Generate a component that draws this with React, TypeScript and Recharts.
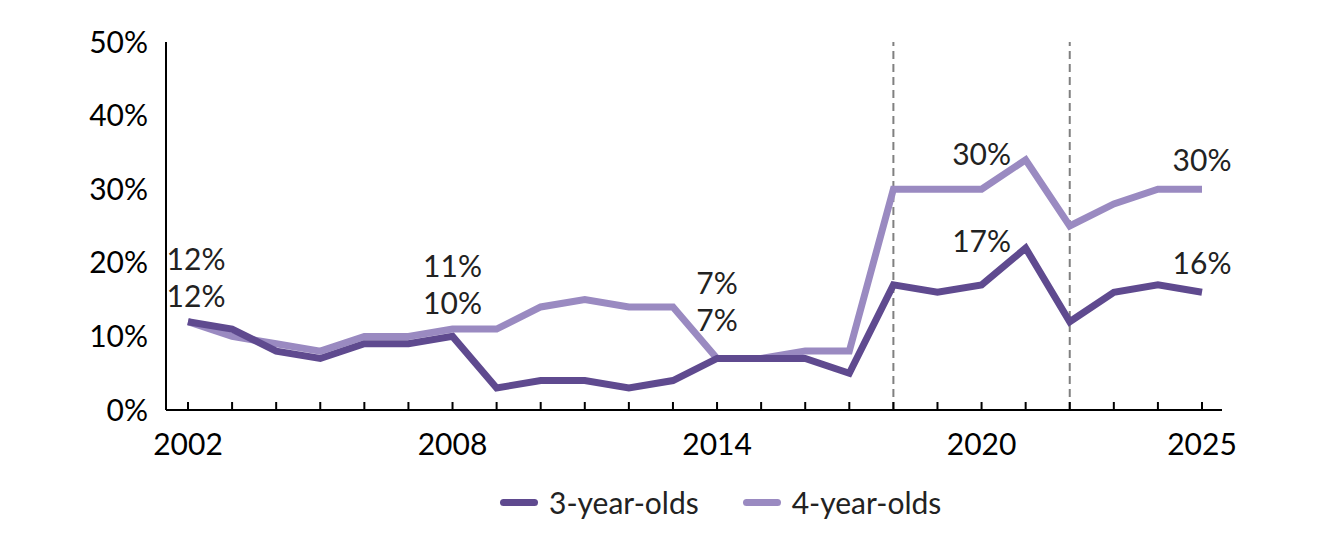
import {
  LineChart,
  Line,
  XAxis,
  YAxis,
  ReferenceLine,
  Legend,
  LabelList,
} from "recharts";

const years = [
  2002, 2003, 2004, 2005, 2006, 2007, 2008, 2009, 2010, 2011, 2012, 2013,
  2014, 2015, 2016, 2017, 2018, 2019, 2020, 2021, 2022, 2023, 2024, 2025,
];
const threeYearOlds = [
  12, 11, 8, 7, 9, 9, 10, 3, 4, 4, 3, 4, 7, 7, 7, 5, 17, 16, 17, 22, 12, 16,
  17, 16,
];
const fourYearOlds = [
  12, 10, 9, 8, 10, 10, 11, 11, 14, 15, 14, 14, 7, 7, 8, 8, 30, 30, 30, 34, 25,
  28, 30, 30,
];
const yTicks = [0, 10, 20, 30, 40, 50];
const labelledYears = [2002, 2008, 2014, 2020, 2025];
const dashedYears = [2018, 2022];

const data = years.map((year, i) => ({
  year,
  three: threeYearOlds[i],
  four: fourYearOlds[i],
}));

const DARK = "#5f4a8f";
const LIGHT = "#9a8ac1";
const FONT = "Lato, 'Noto Sans', sans-serif";
const FS = 30;

// vertical offset (px) of each value label above its point
const threeOffsets: Record<number, number> = {
  2002: -27,
  2008: -34,
  2014: -39,
  2020: -45,
  2025: -30,
};
const fourOffsets: Record<number, number> = {
  2002: -64,
  2008: -64,
  2014: -76,
  2020: -36,
  2025: -30,
};

const makeLabel = (offsets: Record<number, number>) => (props: any) => {
  const { x, y, value, index } = props;
  const year = years[index];
  if (!labelledYears.includes(year)) return null;
  return (
    <text
      x={x + (year === 2002 ? 8 : 0)}
      y={y + offsets[year]}
      textAnchor="middle"
      dominantBaseline="central"
      fontFamily={FONT}
      fontSize={FS}
      fill="#222"
    >
      {value}%
    </text>
  );
};

const XTick = (props: any) => {
  const { x, y, payload } = props;
  const show = labelledYears.includes(payload.value);
  return (
    <g>
      <line x1={x} x2={x} y1={y - 8} y2={y} stroke="#000" strokeWidth={2} />
      {show && (
        <text
          x={x}
          y={y + 33}
          textAnchor="middle"
          dominantBaseline="central"
          fontFamily={FONT}
          fontSize={FS}
          fill="#000"
        >
          {payload.value}
        </text>
      )}
    </g>
  );
};

const LegendContent = () => {
  const item = (color: string, label: string, gap: number) => (
    <div style={{ display: "flex", alignItems: "center", marginRight: gap }}>
      <div
        style={{
          width: 38,
          height: 7,
          borderRadius: 4,
          background: color,
          marginRight: 11,
        }}
      />
      <span style={{ fontFamily: FONT, fontSize: FS, color: "#222" }}>
        {label}
      </span>
    </div>
  );
  return (
    <div style={{ display: "flex", paddingLeft: 492 }}>
      {item(DARK, "3-year-olds", 44)}
      {item(LIGHT, "4-year-olds", 0)}
    </div>
  );
};

export default function App() {
  return (
    <LineChart
      width={1318}
      height={525}
      data={data}
      margin={{ top: 34, right: 104, bottom: 37, left: 0 }}
    >
      <XAxis
        dataKey="year"
        type="number"
        domain={[2002, 2025]}
        ticks={years}
        interval={0}
        padding={{ left: 22, right: 20 }}
        axisLine={{ stroke: "#000", strokeWidth: 2 }}
        tickLine={false}
        tickSize={0}
        tickMargin={0}
        tick={<XTick />}
        height={50}
      />
      <YAxis
        domain={[0, 50]}
        ticks={yTicks}
        width={158}
        axisLine={{ stroke: "#000", strokeWidth: 2 }}
        tickLine={false}
        tickSize={0}
        tickMargin={18}
        tickFormatter={(v) => `${v}%`}
        tick={{ fontFamily: FONT, fontSize: FS, fill: "#000" }}
      />
      {dashedYears.map((yr) => (
        <ReferenceLine
          key={yr}
          x={yr}
          stroke="#808080"
          strokeWidth={2}
          strokeDasharray="8 5"
        />
      ))}
      <Line
        dataKey="four"
        stroke={LIGHT}
        strokeWidth={7}
        dot={false}
        isAnimationActive={false}
        strokeLinejoin="miter"
      >
        <LabelList dataKey="four" content={makeLabel(fourOffsets)} />
      </Line>
      <Line
        dataKey="three"
        stroke={DARK}
        strokeWidth={7}
        dot={false}
        isAnimationActive={false}
        strokeLinejoin="miter"
      >
        <LabelList dataKey="three" content={makeLabel(threeOffsets)} />
      </Line>
      <Legend
        content={<LegendContent />}
        wrapperStyle={{ left: 0, width: 1318, top: 476 }}
      />
    </LineChart>
  );
}
